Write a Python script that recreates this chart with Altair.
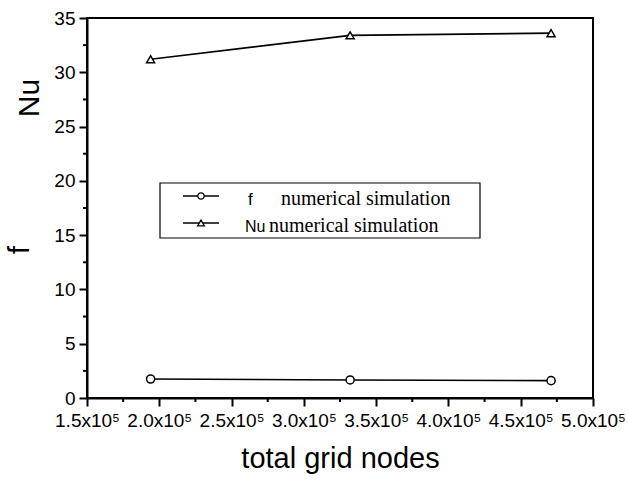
import altair as alt
import pandas as pd

# data
grid_nodes = [194000, 332000, 471000]
nu_values = [31.2, 33.4, 33.6]
f_values = [1.75, 1.66, 1.60]
series_names = ["f", "Nu"]

x_major = [150000 + 50000 * i for i in range(8)]
x_minor = [175000 + 50000 * i for i in range(7)]
y_major = [5 * i for i in range(8)]
y_minor = [2.5 + 5 * i for i in range(7)]

rows = []
for xv, fv in zip(grid_nodes, f_values):
    rows.append({"nodes": xv, "value": fv, "series": "f"})
for xv, nv in zip(grid_nodes, nu_values):
    rows.append({"nodes": xv, "value": nv, "series": "Nu"})
df = pd.DataFrame(rows)

W, H = 506, 380

x_scale = alt.Scale(domain=[150000, 500000], nice=False, zero=False)
y_scale = alt.Scale(domain=[0, 35], nice=False)

x_enc = alt.X(
    "nodes:Q",
    scale=x_scale,
    axis=alt.Axis(
        values=x_major,
        labelExpr="format(datum.value / 100000, '.1f') + 'x10\u2075'",
        ticks=True,
        tickSize=8,
        tickWidth=2,
        tickColor="black",
        domainColor="black",
        domainWidth=2,
        labelFont="Liberation Sans",
        labelFontSize=19,
        labelColor="black",
        labelFlush=False,
        labelOverlap=False,
        labelPadding=5,
        grid=False,
        title="total grid nodes",
        titleFont="Liberation Sans",
        titleFontSize=29,
        titleFontWeight="normal",
        titleColor="black",
        titlePadding=14,
    ),
)
y_enc = alt.Y(
    "value:Q",
    scale=y_scale,
    axis=alt.Axis(
        values=y_major,
        format="d",
        ticks=True,
        tickSize=8,
        tickWidth=2,
        tickColor="black",
        domainColor="black",
        domainWidth=2,
        labelFont="Liberation Sans",
        labelFontSize=19,
        labelColor="black",
        labelOverlap=False,
        labelFlush=False,
        labelPadding=4,
        grid=False,
        title=None,
    ),
)

shape_scale = alt.Scale(domain=series_names, range=["circle", "triangle-up"])

lines = alt.Chart(df).mark_line(color="black", strokeWidth=1.7).encode(
    x=x_enc, y=y_enc, detail="series:N"
)
points = alt.Chart(df).mark_point(
    filled=True, fill="white", stroke="black", strokeWidth=1.5, size=65, opacity=1
).encode(
    x="nodes:Q", y="value:Q",
    shape=alt.Shape("series:N", scale=shape_scale, legend=None),
)

# minor ticks on both axes, placed by the scales
minor_x = alt.Chart(pd.DataFrame({"nodes": x_minor})).mark_rule(
    color="black", strokeWidth=2, clip=False
).encode(x="nodes:Q", y=alt.value(H), y2=alt.value(H + 4))
minor_y = alt.Chart(pd.DataFrame({"value": y_minor})).mark_rule(
    color="black", strokeWidth=2, clip=False
).encode(y="value:Q", x=alt.value(-4), x2=alt.value(0))

one = alt.Data(values=[{"a": 1}])

# legend box (drawn by hand)
box = alt.Chart(one).mark_rect(fill="white", stroke="black", strokeWidth=1.2).encode(
    x=alt.value(73), x2=alt.value(393), y=alt.value(165), y2=alt.value(220)
)
leg_line1 = alt.Chart(one).mark_rule(color="black", strokeWidth=1.7).encode(
    x=alt.value(96), x2=alt.value(132), y=alt.value(178)
)
leg_line2 = alt.Chart(one).mark_rule(color="black", strokeWidth=1.7).encode(
    x=alt.value(96), x2=alt.value(132), y=alt.value(205)
)
leg_pt1 = alt.Chart(one).mark_point(
    shape="circle", filled=True, fill="white", stroke="black", strokeWidth=1.3, size=40, opacity=1
).encode(x=alt.value(114), y=alt.value(178))
leg_pt2 = alt.Chart(one).mark_point(
    shape="triangle-up", filled=True, fill="white", stroke="black", strokeWidth=1.3, size=45, opacity=1
).encode(x=alt.value(114), y=alt.value(205))

def label(txt, x, y, font, size):
    return alt.Chart(one).mark_text(
        text=txt, font=font, fontSize=size, align="left", baseline="alphabetic", color="black"
    ).encode(x=alt.value(x), y=alt.value(y))

leg_t1a = label("f", 161, 187, "Liberation Sans", 17)
leg_t1b = label("numerical simulation", 194, 187, "Liberation Serif", 20)
leg_t2a = label("Nu", 158, 214, "Liberation Sans", 16)
leg_t2b = label("numerical simulation", 182, 214, "Liberation Serif", 20)

# y-axis titles
nu_title = alt.Chart(one).mark_text(
    text="Nu", font="Liberation Sans", fontSize=30, angle=270, align="center", baseline="middle", color="black"
).encode(x=alt.value(-57), y=alt.value(80))
f_title = alt.Chart(one).mark_text(
    text="f", font="Liberation Sans", fontSize=30, angle=270, align="center", baseline="middle", color="black"
).encode(x=alt.value(-67), y=alt.value(232))

chart = alt.layer(
    lines, points, minor_x, minor_y, box, leg_line1, leg_line2, leg_pt1, leg_pt2,
    leg_t1a, leg_t1b, leg_t2a, leg_t2b, nu_title, f_title,
).properties(
    width=W, height=H,
    background="white",
    autosize=alt.AutoSizeParams(type="none"),
    padding={"left": 87, "top": 18, "right": 35, "bottom": 82},
).configure_view(
    stroke="black", strokeWidth=2
)

chart.save("out.html", embed_options={"renderer": "svg", "actions": False})
